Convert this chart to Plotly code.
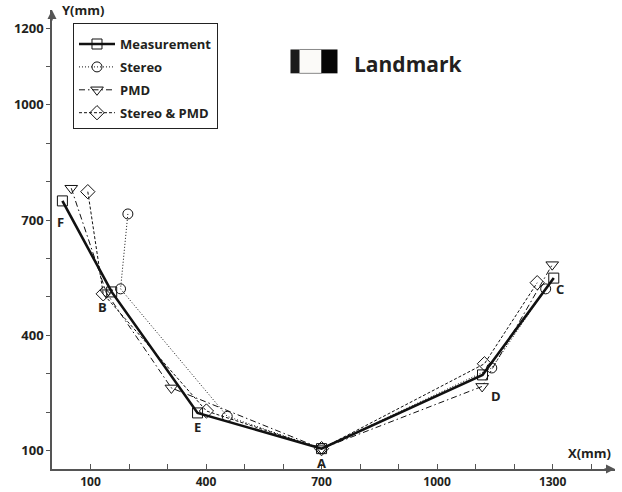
import plotly.graph_objects as go

# Landmark positions along the path F -> B -> E -> A -> D -> C
point_names = ["F", "B", "E", "A", "D", "C"]

meas_x = [27, 155, 378, 700, 1118, 1303]
meas_y = [750, 513, 198, 105, 297, 549]

stereo_x = [197, 178, 455, 700, 1142, 1282]
stereo_y = [716, 521, 189, 105, 315, 521]

pmd_x = [50, 141, 310, 700, 1117, 1299]
pmd_y = [783, 511, 263, 105, 267, 584]

sp_x = [93, 133, 401, 700, 1123, 1260]
sp_y = [774, 508, 203, 105, 326, 537]

x_ticks = [100, 400, 700, 1000, 1300]
y_ticks = [100, 400, 700, 1000, 1200]

FONT = "Open Sans"
INK = "#231f20"
AXIS = "#555555"

fig = go.Figure()

series = [
    ("Measurement", meas_x, meas_y, dict(width=2.6, dash="solid"), "square-open", 10),
    ("Stereo", stereo_x, stereo_y, dict(width=1, dash="1px,2px"), "circle-open", 10),
    ("PMD", pmd_x, pmd_y, dict(width=1, dash="6px,3px,1.5px,3px"), "triangle-down-open", 11),
    ("Stereo & PMD", sp_x, sp_y, dict(width=1, dash="3px,2px"), "diamond-open", 11),
]

for i, (name, xs, ys, line, sym, size) in enumerate(series):
    fig.add_trace(go.Scatter(
        x=xs, y=ys, name=name, mode="lines+markers",
        legendgroup=f"g{i}",
        line=dict(color="#111111", **line),
        marker=dict(symbol=sym, size=size, color="#111111",
                    line=dict(width=1, color="#111111")),
    ))

bold = lambda size: dict(family=FONT, size=size, color=INK, weight="bold")

# Point labels next to the measured positions
label_offsets = {"F": (-2, -21), "B": (-9, -15), "E": (0, -14),
                 "A": (0, -14), "D": (13, -21), "C": (6, -11)}
annotations = []
for nm, xv, yv in zip(point_names, meas_x, meas_y):
    dx, dy = label_offsets[nm]
    annotations.append(dict(x=xv, y=yv, text=nm, showarrow=False,
                            xshift=dx, yshift=dy, font=bold(13)))

# Axis arrows
annotations.append(dict(x=0, y=1, xref="paper", yref="paper", ax=0, ay=12,
                        showarrow=True, arrowhead=2, arrowsize=1.2, arrowwidth=1.5,
                        arrowcolor=AXIS, text=""))
annotations.append(dict(x=1, y=0, xref="paper", yref="paper", ax=-12, ay=0,
                        showarrow=True, arrowhead=2, arrowsize=1.2, arrowwidth=1.5,
                        arrowcolor=AXIS, text=""))
# Axis titles
annotations.append(dict(x=0, y=1, xref="paper", yref="paper", xanchor="left",
                        yanchor="middle", xshift=8, yshift=0, text="Y(mm)",
                        showarrow=False, font=bold(13)))
annotations.append(dict(x=1, y=0, xref="paper", yref="paper", xanchor="right",
                        yanchor="middle", xshift=-2, yshift=16, text="X(mm)",
                        showarrow=False, font=bold(13)))
# Landmark caption
annotations.append(dict(x=0.532, y=0.883, xref="paper", yref="paper", xanchor="left",
                        yanchor="middle", text="Landmark", showarrow=False,
                        font=bold(21)))

# Landmark icon: black / white / black block
shapes = [
    dict(type="rect", xref="paper", yref="paper", x0=0.4236, x1=0.4396,
         y0=0.862, y1=0.914, fillcolor="#1a1a1a", line=dict(width=0)),
    dict(type="rect", xref="paper", yref="paper", x0=0.4396, x1=0.4787,
         y0=0.862, y1=0.914, fillcolor="#fbfaf8", line=dict(width=1, color="#888888")),
    dict(type="rect", xref="paper", yref="paper", x0=0.4787, x1=0.5071,
         y0=0.862, y1=0.914, fillcolor="#050505", line=dict(width=0)),
]

fig.update_layout(
    width=622, height=492,
    margin=dict(l=52, r=7, t=10, b=23),
    paper_bgcolor="white", plot_bgcolor="white",
    showlegend=True,
    legend=dict(x=0.0373, y=0.972, xanchor="left", yanchor="top",
                bordercolor="#222222", borderwidth=1, bgcolor="white",
                traceorder="grouped", tracegroupgap=3, itemwidth=36,
                title=dict(text="&nbsp;", font=dict(size=4)),
                font=bold(13)),
    annotations=annotations,
    shapes=shapes,
)

fig.update_xaxes(range=[0, 1462], showgrid=False, zeroline=False,
                 automargin=False,
                 showline=True, linecolor=AXIS, linewidth=1.5,
                 tickvals=x_ticks, ticks="inside", ticklen=5, tickcolor=AXIS,
                 tickwidth=1, ticklabelstandoff=1,
                 minor=dict(dtick=100, tick0=0, ticks="inside", ticklen=5,
                            tickcolor=AXIS, showgrid=False),
                 tickfont=bold(12))
fig.update_yaxes(range=[52, 1247], showgrid=False, zeroline=False,
                 automargin=False,
                 showline=True, linecolor=AXIS, linewidth=1.5,
                 tickvals=y_ticks, ticks="outside", ticklen=4, tickcolor=AXIS,
                 tickwidth=1,
                 minor=dict(dtick=100, tick0=0, ticks="outside", ticklen=4,
                            tickcolor=AXIS, showgrid=False),
                 tickfont=bold(13))

fig.write_html("out.html")
